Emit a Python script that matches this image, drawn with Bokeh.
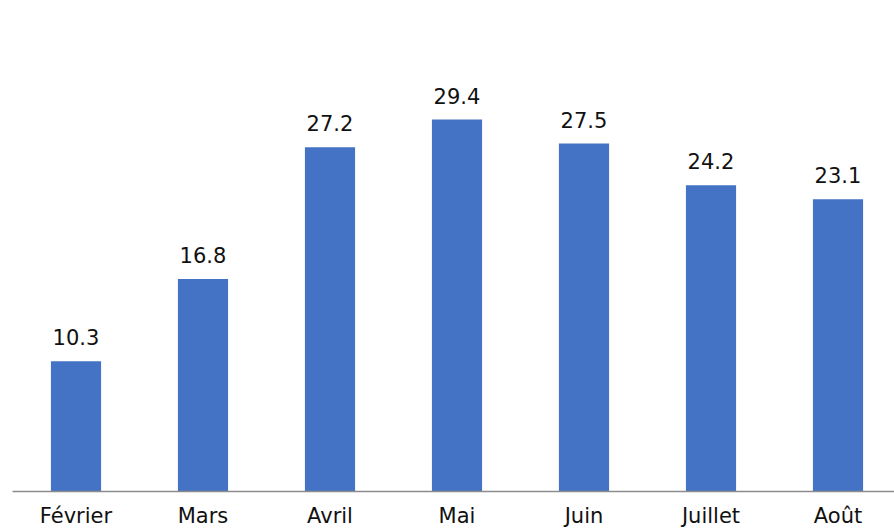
from bokeh.plotting import figure
from bokeh.models import ColumnDataSource, Range1d, FixedTicker, LabelSet
from bokeh.core.properties import value
from bokeh.embed import file_html
from bokeh.resources import INLINE

months = ["Février", "Mars", "Avril", "Mai", "Juin", "Juillet", "Août"]
values = [10.3, 16.8, 27.2, 29.4, 27.5, 24.2, 23.1]

xs = list(range(len(months)))
src = ColumnDataSource(dict(x=xs, top=values, lab=[f"{v:.1f}" for v in values]))

p = figure(width=894, height=530, output_backend="svg", toolbar_location=None,
           x_range=Range1d(-0.5, -0.5 + 882 / 127), y_range=Range1d(0, 491 / 12.653))
p.min_border_left = 12
p.min_border_right = 0
p.min_border_top = 0
p.min_border_bottom = 39
p.outline_line_color = None
p.background_fill_color = "white"
p.border_fill_color = "white"

p.vbar(x="x", top="top", width=0.395, source=src, fill_color="#4472C4", line_color=None)

labels = LabelSet(x="x", y="top", text="lab", source=src, text_align="center",
                  text_baseline="alphabetic", y_offset=16, text_font_size="21px",
                  text_font=value("DejaVu Sans"), text_color="#111111")
p.add_layout(labels)

p.yaxis.visible = False
p.xgrid.visible = False
p.ygrid.visible = False
p.xaxis.ticker = FixedTicker(ticks=xs)
p.xaxis.major_label_overrides = {i: m for i, m in enumerate(months)}
p.xaxis.major_tick_line_color = None
p.xaxis.minor_tick_line_color = None
p.xaxis.major_tick_out = 0
p.xaxis.minor_tick_out = 0
p.xaxis.axis_label_standoff = 0
p.xaxis.axis_line_color = "#8c8c8c"
p.xaxis.axis_line_width = 1.5
p.xaxis.major_label_text_font = "DejaVu Sans"
p.xaxis.major_label_text_font_size = "21px"
p.xaxis.major_label_text_color = "#111111"
p.xaxis.major_label_standoff = 12

open("out.html", "w").write(file_html(p, INLINE))
